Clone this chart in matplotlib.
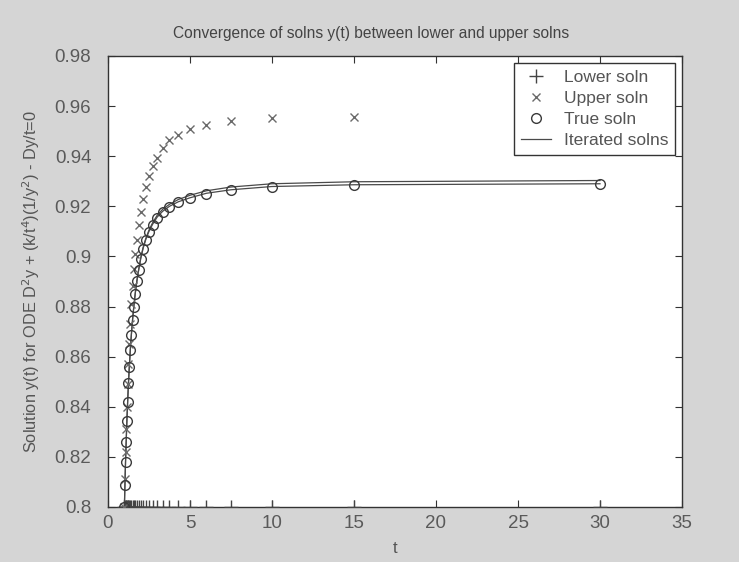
import matplotlib
matplotlib.use("Agg")
import matplotlib.pyplot as plt

plt.rcParams['font.family'] = ['Liberation Sans', 'DejaVu Sans']

# t grid (t = 30/n, n = 1..30)
t_vals = [30.0, 15.0, 10.0, 7.5, 6.0, 5.0, 4.2857, 3.75, 3.3333, 3.0,
          2.7273, 2.5, 2.3077, 2.1429, 2.0, 1.875, 1.7647, 1.6667, 1.5789, 1.5,
          1.4286, 1.3636, 1.3043, 1.25, 1.2, 1.1538, 1.1111, 1.0714, 1.0345, 1.0]

lower_soln = [0.8] * 30

upper_soln = [0.9560, 0.9556, 0.9551, 0.9542, 0.9526, 0.9510, 0.9483, 0.9463, 0.9432, 0.9394,
              0.9362, 0.9321, 0.9278, 0.9228, 0.9177, 0.9125, 0.9065, 0.9010, 0.8950, 0.8880,
              0.8810, 0.8730, 0.8650, 0.8570, 0.8490, 0.8400, 0.8310, 0.8220, 0.8110, 0.8000]

true_soln = [0.9288, 0.9284, 0.9277, 0.9264, 0.9250, 0.9232, 0.9216, 0.9198, 0.9178, 0.9155,
             0.9127, 0.9098, 0.9066, 0.9030, 0.8990, 0.8945, 0.8900, 0.8852, 0.8800, 0.8745,
             0.8687, 0.8626, 0.8560, 0.8493, 0.8418, 0.8343, 0.8259, 0.8179, 0.8087, 0.8000]

iter_a = [0.9290, 0.9286, 0.9279, 0.9266, 0.9252, 0.9234, 0.9218, 0.9200, 0.9180, 0.9157,
          0.9129, 0.9100, 0.9068, 0.9032, 0.8992, 0.8947, 0.8902, 0.8854, 0.8802, 0.8747,
          0.8689, 0.8628, 0.8562, 0.8495, 0.8420, 0.8345, 0.8261, 0.8181, 0.8088, 0.8000]

iter_b = [0.9303, 0.9298, 0.9290, 0.9277, 0.9262, 0.9244, 0.9227, 0.9208, 0.9188, 0.9164,
          0.9135, 0.9105, 0.9072, 0.9036, 0.8995, 0.8949, 0.8904, 0.8855, 0.8803, 0.8748,
          0.8690, 0.8629, 0.8563, 0.8496, 0.8421, 0.8345, 0.8261, 0.8181, 0.8088, 0.8000]

x_ticks = [0, 5, 10, 15, 20, 25, 30, 35]
y_ticks = [0.8, 0.82, 0.84, 0.86, 0.88, 0.9, 0.92, 0.94, 0.96, 0.98]
y_tick_labels = ['0.8', '0.82', '0.84', '0.86', '0.88', '0.9', '0.92', '0.94', '0.96', '0.98']

fig = plt.figure(figsize=(7.39, 5.62), dpi=100)
fig.patch.set_facecolor('#d5d5d5')
ax = fig.add_axes([0.1461, 0.0979, 0.7768, 0.8025])
ax.set_facecolor('white')

ax.plot(t_vals, lower_soln, linestyle='none', marker='+', markersize=10,
        color='#444444', markeredgewidth=1.0, label='Lower soln', zorder=3)
ax.plot(t_vals, upper_soln, linestyle='none', marker='x', markersize=5.5,
        color='#6a6a6a', markeredgewidth=1.0, label='Upper soln', zorder=3)
ax.plot(t_vals, true_soln, linestyle='none', marker='o', markersize=7,
        markerfacecolor='none', markeredgecolor='#3a3a3a', markeredgewidth=1.0,
        label='True soln', zorder=4)
ax.plot(t_vals, iter_a, color='#4a4a4a', linewidth=0.9, label='Iterated solns', zorder=2)
ax.plot(t_vals, iter_b, color='#4a4a4a', linewidth=0.9, zorder=2)

ax.set_xlim(0, 35)
ax.set_ylim(0.8, 0.98)
ax.set_xticks(x_ticks)
ax.set_yticks(y_ticks)
ax.set_yticklabels(y_tick_labels)
ax.tick_params(direction='in', top=True, right=True, length=5, width=0.8,
               labelsize=13.5, colors='#333333', labelcolor='#5a5a5a')
ax.tick_params(axis='y', pad=12)
ax.tick_params(axis='x', pad=6)
for s in ax.spines.values():
    s.set_color('#333333')
    s.set_linewidth(1.0)

ax.set_title('Convergence of solns y(t) between lower and upper solns',
             fontsize=11.2, color='#444444', pad=13, x=0.459)
ax.set_xlabel('t', fontsize=12, color='#555555', labelpad=6)
ax.set_ylabel('Solution y(t) for ODE D$^2$y + (k/t$^4$)(1/y$^2$) - Dy/t=0',
              fontsize=11.8, color='#555555', labelpad=9)

leg = ax.legend(loc='upper right', fontsize=12.5, frameon=True, fancybox=False,
                edgecolor='#333333', framealpha=1.0, borderaxespad=0.4,
                handlelength=1.75, handletextpad=0.7, labelspacing=0.33,
                borderpad=0.4)
leg.get_frame().set_linewidth(1.0)
for txt in leg.get_texts():
    txt.set_color('#555555')

fig.savefig('out.png', dpi=100, facecolor=fig.get_facecolor())
